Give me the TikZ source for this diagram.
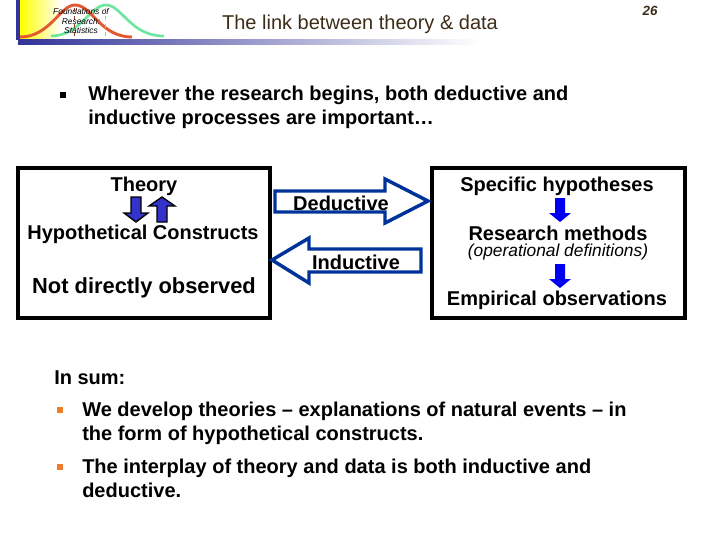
\documentclass[tikz,border=0pt]{standalone}
\usepackage{fontspec}
\setmainfont{Liberation Sans}
\definecolor{barblue}{RGB}{51,51,153}
\definecolor{arrowblue}{RGB}{0,51,153}
\definecolor{fillblue}{RGB}{51,51,204}
\definecolor{pureblue}{RGB}{0,0,240}
\definecolor{curvered}{RGB}{225,90,50}
\definecolor{curvegreen}{RGB}{110,230,160}
\definecolor{bulletorange}{RGB}{235,125,45}
\definecolor{titlecol}{RGB}{60,45,25}
\tikzset{
  boxframe/.style={draw=black, line width=2.5pt},
  bigarrow/.style={draw=arrowblue, line width=2.6pt, fill=white, line join=miter},
  smallarrow/.style={draw=black, line width=1pt, fill=fillblue},
  bluearrow/.style={fill=pureblue},
  body/.style={font=\fontsize{15}{18}\selectfont\bfseries, inner sep=0pt, align=left},
  boxtext/.style={font=\fontsize{15}{18}\selectfont\bfseries, inner sep=0pt},
}
\begin{document}
\begin{tikzpicture}[x=0.75pt, y=-0.75pt]
    \useasboundingbox (0, 0) rectangle (720, 540);

    % Logo
    \shade[left color=yellow, right color=white] (20, 0) rectangle (62, 39);
    \draw[curvegreen, line width=2pt] (51, 36) .. controls (80, 36) and (90, 5) .. (106, 5) .. controls (122, 5) and (130, 36) .. (164, 36);
    \draw[curvered, line width=2.2pt] (20, 37) .. controls (50, 37) and (60, 5) .. (75, 5) .. controls (92, 5) and (100, 37) .. (132, 37);
    \draw[curvered!70!black, dashed, thin] (74, 8) -- (74, 37);
    \draw[curvegreen, dashed, thin] (105, 8) -- (105, 37);
    \fill[barblue] (16, 0) rectangle (20, 40);
    \shade[left color=barblue, right color=white] (18, 39) rectangle (480, 44);
    \node[font=\fontsize{6.3}{7.4}\selectfont\itshape, align=center, inner sep=0pt] (logotext) at (81, 21) {Foundations of\\Research:\\Statistics};

    % Header
    \node[font=\fontsize{15}{18}\selectfont, text=titlecol, inner sep=0pt] (title) at (360, 24) {The link between theory \& data};
    \node[font=\fontsize{10}{12}\selectfont\bfseries\itshape, text=titlecol, inner sep=0pt] (page) at (650, 11) {26};

    % Intro
    \node[fill=black, minimum size=5pt, inner sep=0pt] (introbullet) at (63, 95) {};
    \node[body, anchor=north west] (intro) at (88, 86) {Wherever the research begins, both deductive and\\[0pt]inductive processes are important…};

    % Boxes
    \node[boxframe, minimum width=189pt, minimum height=112.5pt, inner sep=0pt] (leftbox) at (144, 243) {};
    \node[boxframe, minimum width=189.75pt, minimum height=112.5pt, inner sep=0pt] (rightbox) at (558.5, 243) {};

    \node[boxtext] (theory) at (144, 186) {Theory};
    \node[boxtext] (constructs) at (143, 234) {Hypothetical Constructs};
    \node[boxtext, font=\fontsize{16.4}{19}\selectfont\bfseries] (observed) at (144, 288) {Not directly observed};

    \node[boxtext] (hypotheses) at (557, 186) {Specific hypotheses};
    \node[boxtext] (methods) at (558, 233) {Research methods};
    \node[font=\fontsize{13}{13}\selectfont\itshape, inner sep=0pt] (definitions) at (558, 252) {(operational definitions)};
    \node[boxtext] (empirical) at (557, 300) {Empirical observations};

    % Arrows
    \draw[bigarrow] (275, 191) -- (385, 191) -- (385, 179) -- (428, 201) -- (385, 223) -- (385, 212) -- (275, 212) -- cycle;
    \draw[bigarrow] (421, 249) -- (309, 249) -- (309, 238) -- (272, 260) -- (309, 283) -- (309, 272) -- (421, 272) -- cycle;
    \node[boxtext] (deductive) at (341, 203) {Deductive};
    \node[boxtext] (inductive) at (356, 262) {Inductive};

    \draw[smallarrow] (131, 197) -- (141, 197) -- (141, 213) -- (148, 213) -- (136, 222) -- (124, 213) -- (131, 213) -- cycle;
    \draw[smallarrow] (157, 222) -- (167, 222) -- (167, 206) -- (175, 206) -- (162, 197) -- (149, 206) -- (157, 206) -- cycle;

    \fill[bluearrow] (555, 198) -- (565, 198) -- (565, 213) -- (571, 213) -- (560, 222) -- (549, 213) -- (555, 213) -- cycle;
    \fill[bluearrow] (555, 264) -- (565, 264) -- (565, 279) -- (571, 279) -- (560, 288) -- (549, 279) -- (555, 279) -- cycle;

    % Summary
    \node[body, anchor=west] (insum) at (54, 378) {In sum:};
    \node[fill=bulletorange, minimum size=4.5pt, inner sep=0pt] (bulletone) at (60, 410) {};
    \node[fill=bulletorange, minimum size=4.5pt, inner sep=0pt] (bullettwo) at (60, 467) {};
    \node[body, anchor=north west] (sumone) at (82, 402) {We develop theories – explanations of natural events – in\\[0pt]the form of hypothetical constructs.};
    \node[body, anchor=north west] (sumtwo) at (82, 459) {The interplay of theory and data is both inductive and\\[0pt]deductive.};
\end{tikzpicture}
\end{document}
